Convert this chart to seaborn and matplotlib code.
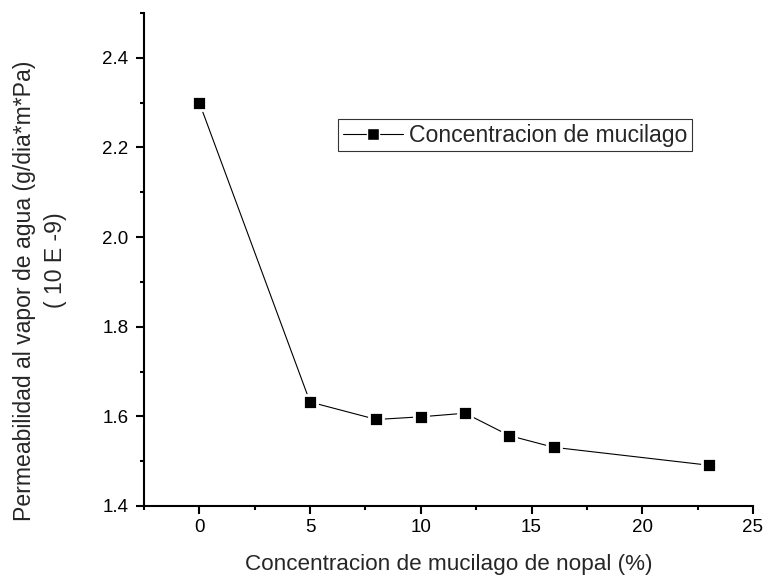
import matplotlib
matplotlib.use("Agg")
import matplotlib.pyplot as plt
from matplotlib.ticker import MultipleLocator, FormatStrFormatter
import seaborn as sns
import pandas as pd

concentracion = [0, 5, 8, 10, 12, 14, 16, 23]
permeabilidad = [2.300, 1.632, 1.593, 1.599, 1.607, 1.557, 1.531, 1.491]
serie = "Concentracion de mucilago"

df = pd.DataFrame({"x": concentracion, "y": permeabilidad, "serie": serie})

sns.set_style("ticks")
plt.rcParams["font.family"] = ["Liberation Sans", "DejaVu Sans"]

fig = plt.figure(figsize=(7.67, 5.79), dpi=100)
ax = fig.add_axes([0.1877, 0.1261, 0.794, 0.8514])

sns.lineplot(data=df, x="x", y="y", hue="serie", palette=["black"],
             marker="s", markersize=9.4, markeredgecolor="white",
             markeredgewidth=2.0, linewidth=0.8, ax=ax)

ax.set_xlim(-2.5, 25)
ax.set_ylim(1.4, 2.5)
ax.xaxis.set_major_locator(MultipleLocator(5))
ax.xaxis.set_minor_locator(MultipleLocator(2.5))
ax.yaxis.set_major_locator(MultipleLocator(0.2))
ax.yaxis.set_minor_locator(MultipleLocator(0.1))
ax.yaxis.set_major_formatter(FormatStrFormatter("%.1f"))

sns.despine(ax=ax)
for s in ["left", "bottom"]:
    ax.spines[s].set_linewidth(1.5)
    ax.spines[s].set_color("black")
ax.tick_params(which="major", direction="out", length=5.8, width=1.5,
               labelsize=13.5, colors="black")
ax.tick_params(which="minor", direction="out", length=3, width=1.5, colors="black")
ax.tick_params(axis="x", which="major", pad=3.5)
ax.tick_params(axis="y", which="major", pad=5.5)

ax.set_xlabel("Concentracion de mucilago de nopal (%)", fontsize=16.2, labelpad=13)
ax.set_ylabel("")
fig.text(24.5 / 767, 1 - 290.5 / 579, "Permeabilidad al vapor de agua (g/dia*m*Pa)",
         rotation=90, ha="center", va="center", fontsize=16.6)
fig.text(55.5 / 767, 1 - 260.5 / 579, "( 10 E -9)",
         rotation=90, ha="center", va="center", fontsize=16.6)

leg = ax.legend(loc="upper left", bbox_to_anchor=(0.3186, 0.785), fontsize=16.6,
                frameon=True, fancybox=False, handlelength=2.6,
                borderpad=0.2, handletextpad=0.3, borderaxespad=0)
leg.get_frame().set_edgecolor("black")
leg.get_frame().set_linewidth(0.8)
for h in leg.legend_handles:
    h.set_markersize(8)
    h.set_markeredgewidth(1.0)

fig.savefig("out.png", dpi=100)
